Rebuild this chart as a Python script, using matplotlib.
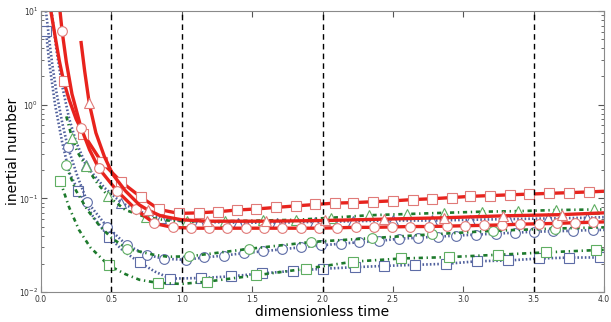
import numpy as np
import matplotlib.pyplot as plt

# --- red, solid ---
t_rs = [0.07, 0.10, 0.13, 0.16, 0.20, 0.25, 0.30, 0.43, 0.57, 0.71, 0.84, 0.98, 1.12, 1.26, 1.39,
        1.53, 1.67, 1.81, 1.95, 2.09, 2.22, 2.36, 2.50, 2.64, 2.78, 2.92, 3.05, 3.19, 3.33, 3.47,
        3.61, 3.75, 3.89, 4.00]
y_rs = [10.0, 5.4, 2.95, 1.8, 1.13, 0.70, 0.49, 0.245, 0.15, 0.103, 0.076, 0.069, 0.070, 0.072, 0.075,
        0.077, 0.080, 0.083, 0.086, 0.089, 0.090, 0.092, 0.094, 0.097, 0.099, 0.102, 0.105, 0.107, 0.109, 0.111,
        0.113, 0.115, 0.117, 0.119]
m_rs = [0.16, 0.30, 0.43, 0.57, 0.71, 0.84, 0.98, 1.12, 1.26, 1.39, 1.53, 1.67, 1.81, 1.95, 2.09, 2.22,
        2.36, 2.50, 2.64, 2.78, 2.92, 3.05, 3.19, 3.33, 3.47, 3.61, 3.75, 3.89]

t_rc = [0.135, 0.15, 0.18, 0.22, 0.284, 0.345, 0.41, 0.54, 0.675, 0.805, 0.935, 1.066, 1.195, 1.325,
        1.455, 1.585, 1.715, 1.845, 1.975, 2.105, 2.235, 2.365, 2.495, 2.625, 2.755, 2.885, 3.015,
        3.145, 3.275, 3.405, 3.535, 3.665, 3.795, 3.925, 4.00]
y_rc = [10.0, 6.1, 2.85, 1.3, 0.57, 0.33, 0.21, 0.12, 0.076, 0.054, 0.049, 0.048, 0.048, 0.048,
        0.048, 0.048, 0.048, 0.048, 0.048, 0.0485, 0.049, 0.049, 0.0495, 0.050, 0.050, 0.0505, 0.051,
        0.0515, 0.052, 0.053, 0.0535, 0.054, 0.055, 0.0556, 0.056]
m_rc = [0.15, 0.284, 0.41, 0.54, 0.675, 0.805, 0.935, 1.066, 1.195, 1.325, 1.455, 1.585, 1.715, 1.845,
        1.975, 2.105, 2.235, 2.365, 2.495, 2.625, 2.755, 2.885, 3.015, 3.145, 3.275, 3.405, 3.535,
        3.665, 3.795, 3.925]

t_rt = [0.285, 0.31, 0.343, 0.39, 0.45, 0.51, 0.60, 0.70, 0.76, 0.85, 1.00, 1.18, 1.60, 2.02, 2.44,
        2.86, 3.28, 3.70, 4.00]
y_rt = [4.6, 2.3, 1.03, 0.50, 0.28, 0.18, 0.12, 0.085, 0.075, 0.065, 0.059, 0.057, 0.057, 0.058, 0.060,
        0.062, 0.065, 0.067, 0.070]
m_rt = [0.343, 0.76, 1.18, 1.60, 2.02, 2.44, 2.86, 3.28, 3.70]

# --- green, dash-dot ---
t_gs = [0.137, 0.20, 0.27, 0.35, 0.48, 0.60, 0.70, 0.83, 1.00, 1.18, 1.53, 1.88, 2.22, 2.56, 2.90,
        3.25, 3.59, 3.94, 4.00]
y_gs = [0.152, 0.08, 0.046, 0.030, 0.0193, 0.0155, 0.0135, 0.0125, 0.0122, 0.0129, 0.0151, 0.0177,
        0.0211, 0.0228, 0.0236, 0.025, 0.0265, 0.028, 0.0282]
m_gs = [0.137, 0.48, 0.83, 1.18, 1.53, 1.88, 2.22, 2.56, 2.90, 3.25, 3.59, 3.94]

t_gc = [0.177, 0.25, 0.33, 0.42, 0.50, 0.61, 0.80, 0.90, 1.05, 1.48, 1.92, 2.35, 2.78, 3.21, 3.65, 4.00]
y_gc = [0.225, 0.12, 0.075, 0.05, 0.038, 0.029, 0.025, 0.0238, 0.024, 0.0289, 0.0342, 0.0376, 0.0413,
        0.045, 0.0476, 0.049]
m_gc = [0.177, 0.61, 1.05, 1.48, 1.92, 2.35, 2.78, 3.21, 3.65]

t_gt = [0.18, 0.22, 0.26, 0.32, 0.40, 0.478, 0.60, 0.746, 0.90, 1.04, 1.31, 1.58, 1.81, 2.06, 2.33,
        2.60, 2.86, 3.13, 3.39, 3.66, 3.93, 4.00]
y_gt = [0.75, 0.446, 0.31, 0.22, 0.145, 0.105, 0.075, 0.063, 0.058, 0.057, 0.057, 0.058, 0.059, 0.062,
        0.066, 0.068, 0.070, 0.072, 0.073, 0.075, 0.076, 0.076]
m_gt = [0.22, 0.32, 0.478, 0.746, 1.04, 1.31, 1.58, 1.81, 2.06, 2.33, 2.60, 2.86, 3.13, 3.39, 3.66, 3.93]

# --- blue, dotted ---
t_bs = [0.035, 0.06, 0.10, 0.15, 0.20, 0.265, 0.37, 0.48, 0.59, 0.70, 0.81, 0.92, 1.14, 1.35, 1.57,
        1.79, 2.00, 2.23, 2.44, 2.66, 2.88, 3.10, 3.32, 3.54, 3.75, 3.97, 4.00]
y_bs = [6.1, 2.7, 1.0, 0.40, 0.19, 0.12, 0.064, 0.039, 0.027, 0.0207, 0.0165, 0.0139, 0.0141, 0.0147,
        0.0158, 0.0168, 0.0177, 0.0184, 0.019, 0.0195, 0.020, 0.0213, 0.0217, 0.0228, 0.0233, 0.0234, 0.0234]
m_bs = [0.035, 0.265, 0.48, 0.70, 0.92, 1.14, 1.35, 1.57, 1.79, 2.00, 2.23, 2.44, 2.66, 2.88, 3.10,
        3.32, 3.54, 3.75, 3.97]

t_bc = [0.035, 0.06, 0.08, 0.11, 0.15, 0.19, 0.26, 0.33, 0.47, 0.61, 0.75, 0.876, 1.03, 1.16, 1.30,
        1.44, 1.58, 1.71, 1.85, 1.99, 2.13, 2.26, 2.40, 2.54, 2.68, 2.82, 2.95, 3.09, 3.23, 3.37, 3.50,
        3.64, 3.78, 3.92, 4.00]
y_bc = [10.0, 4.7, 2.7, 1.35, 0.65, 0.355, 0.17, 0.091, 0.0496, 0.0316, 0.025, 0.0226, 0.0221, 0.0234,
        0.0245, 0.026, 0.0272, 0.0286, 0.030, 0.0315, 0.0328, 0.034, 0.035, 0.037, 0.038, 0.039, 0.040,
        0.041, 0.042, 0.043, 0.044, 0.0445, 0.045, 0.046, 0.046]
m_bc = [0.19, 0.33, 0.47, 0.61, 0.75, 0.876, 1.03, 1.16, 1.30, 1.44, 1.58, 1.71, 1.85, 1.99, 2.13, 2.26,
        2.40, 2.54, 2.68, 2.82, 2.95, 3.09, 3.23, 3.37, 3.50, 3.64, 3.78, 3.92]

t_bt = [0.075, 0.11, 0.15, 0.20, 0.25, 0.32, 0.45, 0.57, 0.70, 0.85, 1.00, 1.12, 1.40, 1.68, 1.95,
        2.22, 2.50, 2.78, 3.05, 3.32, 3.60, 3.88, 4.00]
y_bt = [10.0, 3.8, 1.6, 0.71, 0.40, 0.225, 0.13, 0.09, 0.072, 0.062, 0.057, 0.056, 0.055, 0.055, 0.056,
        0.057, 0.058, 0.058, 0.059, 0.060, 0.061, 0.062, 0.063]
m_bt = [0.32, 0.57, 0.85, 1.12, 1.40, 1.68, 1.95, 2.22, 2.50, 2.78, 3.05, 3.32, 3.60, 3.88]

t_marks = [0.5, 1.0, 2.0, 3.5]

RED, RED_EDGE = '#e8231d', '#e07a78'
GREEN, GREEN_EDGE = '#1d7a2c', '#5fae62'
BLUE, BLUE_EDGE = '#4f5f9c', '#5d6ca6'

blue_style = dict(color=BLUE, lw=1.9, ls=(0, (0.6, 0.8)), mec=BLUE_EDGE, mfc='white', mew=0.8)
green_style = dict(color=GREEN, lw=1.9, ls=(0, (1.6, 1.4, 0.5, 1.4)), mec=GREEN_EDGE, mfc='white', mew=0.8)
red_style = dict(color=RED, lw=2.4, ls='-', mec=RED_EDGE, mfc='white', mew=0.8)

series = [
    (t_bs, y_bs, m_bs, 's', blue_style),
    (t_bc, y_bc, m_bc, 'o', blue_style),
    (t_bt, y_bt, m_bt, '^', blue_style),
    (t_gs, y_gs, m_gs, 's', green_style),
    (t_gc, y_gc, m_gc, 'o', green_style),
    (t_gt, y_gt, m_gt, '^', green_style),
    (t_rs, y_rs, m_rs, 's', red_style),
    (t_rc, y_rc, m_rc, 'o', red_style),
    (t_rt, y_rt, m_rt, '^', red_style),
]

fig = plt.figure(figsize=(6.11, 3.22), dpi=100)
ax = fig.add_axes([41 / 611, 1 - 292 / 322, 563 / 611, 281 / 322])

for t, y, m, mk, st in series:
    t = np.array(t)
    ax.plot(t, y, marker=mk, ms=7, markevery=list(np.isin(t, m)), **st)

for xv in t_marks:
    ax.axvline(xv, color='black', lw=1.0, ls=(0, (4, 3)), zorder=5)

ax.set_yscale('log')
ax.set_xlim(0, 4)
ax.set_ylim(1e-2, 1e1)
ax.set_xticks(np.arange(0, 4.01, 0.5))
ax.set_xticklabels([f'{v:.1f}' for v in np.arange(0, 4.01, 0.5)])

for s in ax.spines.values():
    s.set_color('#8a8a8a')
ax.tick_params(which='both', direction='in', top=True, right=True, labelsize=5.5,
               colors='#555555', labelcolor='#333333', pad=2)
ax.tick_params(which='major', length=4)
ax.tick_params(which='minor', length=2)

ax.set_xlabel('dimensionless time', fontsize=10)
ax.set_ylabel('inertial number', fontsize=10)
ax.xaxis.set_label_coords(0.5, -0.045)
ax.yaxis.set_label_coords(-0.037, 0.5)

fig.savefig('out.png', dpi=100)
